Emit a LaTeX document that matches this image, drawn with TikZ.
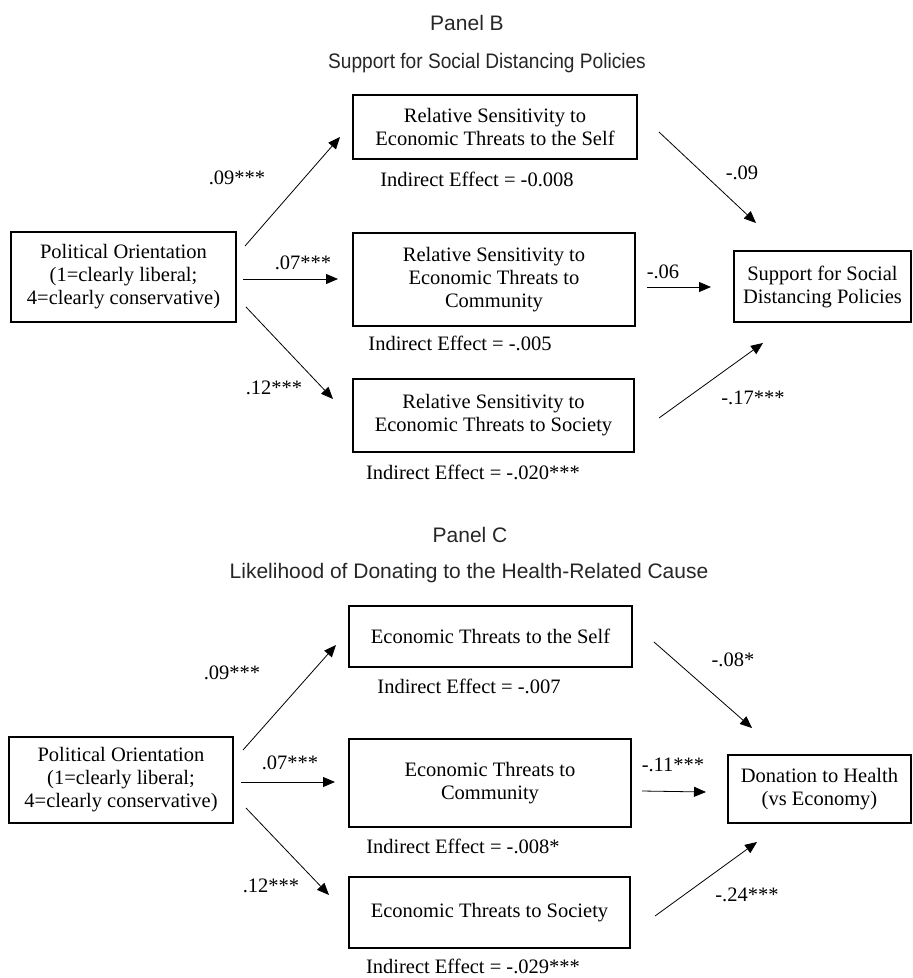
\documentclass[tikz,border=0pt]{standalone}
\usepackage{fontspec}
\usepackage{graphicx}
\setmainfont{Liberation Serif}
\newfontfamily\titlefont{Liberation Sans}
\usetikzlibrary{arrows.meta}
\begin{document}
\begin{tikzpicture}[x=1pt,y=-1pt,
  box/.style={draw, line width=1.5pt, inner sep=0pt, align=center, font=\fontsize{20.5}{23}\selectfont},
  lab/.style={inner sep=0pt, font=\fontsize{20.5}{23}\selectfont},
  ttl/.style={inner sep=0pt, text=black!85, font=\titlefont\fontsize{21}{25}\selectfont},
  arr/.style={-{Triangle[length=12pt,width=10pt]}, line width=0.8pt}]
\useasboundingbox (0,0) rectangle (913,978);

% ---------------- Panel B ----------------
\node[ttl] (tB) at (467,23) {Panel B};
\node[ttl] (sB) at (487,63) {\scalebox{0.91}[1]{Support for Social Distancing Policies}};

\node[box, minimum width=225pt, minimum height=90pt] (POB) at (123.5,277) {Political Orientation\\(1=clearly liberal;\\4=clearly conservative)};
\node[box, minimum width=284pt, minimum height=64pt] (B1) at (495,127) {Relative Sensitivity to\\Economic Threats to the Self};
\node[box, minimum width=282pt, minimum height=93pt] (B2) at (494,279.5) {Relative Sensitivity to\\Economic Threats to\\Community};
\node[box, minimum width=281pt, minimum height=73pt] (B3) at (493.5,415.5) {Relative Sensitivity to\\Economic Threats to Society};
\node[box, minimum width=177pt, minimum height=71pt] (SB) at (822.5,286.5) {Support for Social\\Distancing Policies};

\node[lab] (iB1) at (477,179) {Indirect Effect = -0.008};
\node[lab] (iB2) at (460,343) {Indirect Effect = -.005};
\node[lab] (iB3) at (473,472) {Indirect Effect = -.020***};

\coordinate (aB1s) at (245,246); \coordinate (aB1e) at (340,137);
\coordinate (aB2s) at (243,279); \coordinate (aB2e) at (338,279);
\coordinate (aB3s) at (246,307); \coordinate (aB3e) at (333,399);
\coordinate (bB1s) at (659,132); \coordinate (bB1e) at (756,223);
\coordinate (bB2s) at (647,287); \coordinate (bB2e) at (711,287);
\coordinate (bB3s) at (659,418); \coordinate (bB3e) at (763,343);

\draw[arr] (aB1s) -- (aB1e);
\draw[arr] (aB2s) -- (aB2e);
\draw[arr] (aB3s) -- (aB3e);
\draw[arr] (bB1s) -- (bB1e);
\draw[arr] (bB2s) -- (bB2e);
\draw[arr] (bB3s) -- (bB3e);

\node[lab] (lB1) at (237,178) {.09***};
\node[lab] (lB2) at (303,263) {.07***};
\node[lab] (lB3) at (274,388) {.12***};
\node[lab] (mB1) at (742,173) {-.09};
\node[lab] (mB2) at (663,272) {-.06};
\node[lab] (mB3) at (753,398) {-.17***};

% ---------------- Panel C ----------------
\node[ttl] (tC) at (470,535) {Panel C};
\node[ttl] (sC) at (469,573) {Likelihood of Donating to the Health-Related Cause};

\node[box, minimum width=224pt, minimum height=86pt] (POC) at (121,780) {Political Orientation\\(1=clearly liberal;\\4=clearly conservative)};
\node[box, minimum width=283pt, minimum height=61pt] (C1) at (490.5,636.5) {Economic Threats to the Self};
\node[box, minimum width=282pt, minimum height=88pt] (C2) at (490,783) {Economic Threats to\\Community};
\node[box, minimum width=281pt, minimum height=71pt] (C3) at (489.5,912.5) {Economic Threats to Society};
\node[box, minimum width=183pt, minimum height=68pt] (DC) at (819.5,789) {Donation to Health\\(vs Economy)};

\node[lab] (iC1) at (469,686) {Indirect Effect = -.007};
\node[lab] (iC2) at (463,846) {Indirect Effect = -.008*};
\node[lab] (iC3) at (473,966) {Indirect Effect = -.029***};

\coordinate (aC1s) at (243,750); \coordinate (aC1e) at (336,645);
\coordinate (aC2s) at (241,782); \coordinate (aC2e) at (335,782);
\coordinate (aC3s) at (246,808); \coordinate (aC3e) at (329,895);
\coordinate (bC1s) at (654,642); \coordinate (bC1e) at (752,728);
\coordinate (bC2s) at (642,791); \coordinate (bC2e) at (706,792);
\coordinate (bC3s) at (655,916); \coordinate (bC3e) at (757,842);

\draw[arr] (aC1s) -- (aC1e);
\draw[arr] (aC2s) -- (aC2e);
\draw[arr] (aC3s) -- (aC3e);
\draw[arr] (bC1s) -- (bC1e);
\draw[arr] (bC2s) -- (bC2e);
\draw[arr] (bC3s) -- (bC3e);

\node[lab] (lC1) at (232,673) {.09***};
\node[lab] (lC2) at (290,763) {.07***};
\node[lab] (lC3) at (271,886) {.12***};
\node[lab] (mC1) at (733,660) {-.08*};
\node[lab] (mC2) at (673,765) {-.11***};
\node[lab] (mC3) at (747,895) {-.24***};
\end{tikzpicture}
\end{document}
